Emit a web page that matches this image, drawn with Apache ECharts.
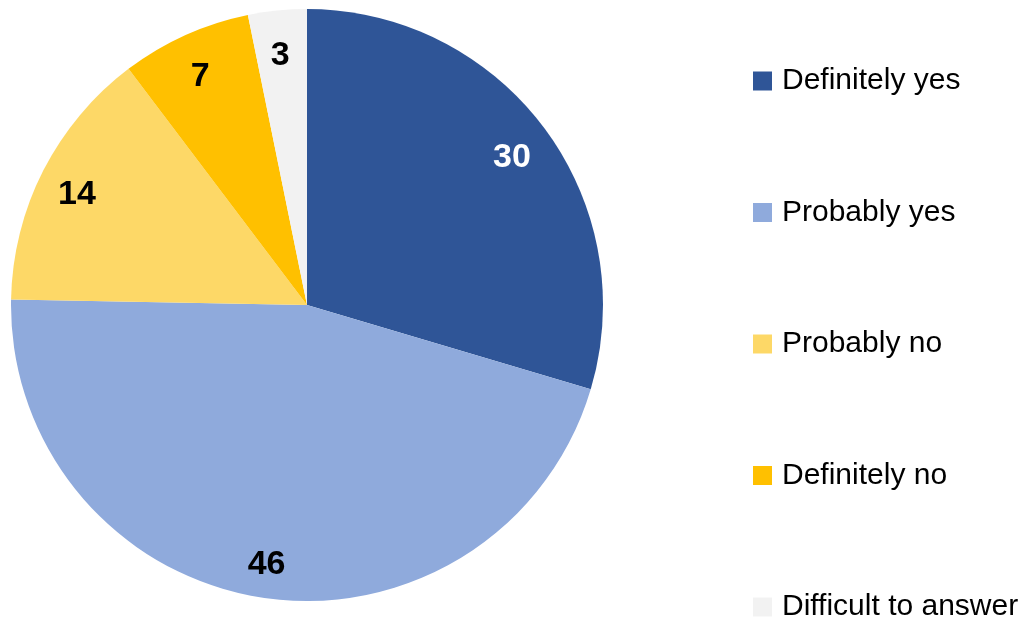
<!DOCTYPE html>
<html>
<head>
<meta charset="utf-8">
<script src="https://cdn.jsdelivr.net/npm/echarts@6/dist/echarts.min.js"></script>
<style>
html,body{margin:0;padding:0;background:#fff;}
#chart{width:1028px;height:619px;}
</style>
</head>
<body>
<div id="chart"></div>
<script>
const categories = ['Definitely yes', 'Probably yes', 'Probably no', 'Definitely no', 'Difficult to answer'];
const values = [29.6, 45.7, 14.4, 7.1, 3.2];
// rounded value labels printed on the slices
const valueLabels = ['30', '46', '14', '7', '3'];
const colors = ['#2F5597', '#8FAADC', '#FDD867', '#FFC000', '#F2F2F2'];
const labelColors = ['#FFFFFF', '#000000', '#000000', '#000000', '#000000'];

const chart = echarts.init(document.getElementById('chart'), null, {renderer: 'canvas'});

const pieData = categories.map((c, i) => ({name: c, value: values[i], itemStyle: {color: colors[i]}}));
const labelData = categories.map((c, i) => ({
  name: c, value: values[i],
  itemStyle: {color: 'rgba(0,0,0,0)'},
  label: {color: labelColors[i], formatter: valueLabels[i]}
}));

chart.setOption({
  animation: false,
  backgroundColor: '#ffffff',
  legend: {
    orient: 'vertical',
    left: 753,
    top: 66,
    height: 580,
    padding: 0,
    icon: 'rect',
    itemWidth: 19,
    itemHeight: 19,
    itemGap: 101.5,
    selectedMode: false,
    data: categories,
    textStyle: {
      fontFamily: '"Liberation Sans", Arial, sans-serif',
      fontSize: 30,
      color: '#000000',
      lineHeight: 30,
      padding: [0, 0, 0, 5]
    }
  },
  series: [
    {
      type: 'pie',
      center: [307, 305],
      radius: [0, 296],
      startAngle: 90,
      clockwise: true,
      silent: true,
      label: {show: false},
      labelLine: {show: false},
      itemStyle: {borderWidth: 0},
      data: pieData
    },
    {
      type: 'pie',
      center: [306, 311],
      radius: [212, 296],
      startAngle: 90,
      clockwise: true,
      silent: true,
      legendHoverLink: false,
      label: {
        show: true,
        position: 'inside',
        fontFamily: '"Liberation Sans Narrow", "Arial Narrow", "Liberation Sans", Arial, sans-serif',
        fontWeight: 'bold',
        fontSize: 34
      },
      labelLine: {show: false},
      itemStyle: {borderWidth: 0},
      data: labelData
    }
  ]
});
</script>
</body>
</html>
